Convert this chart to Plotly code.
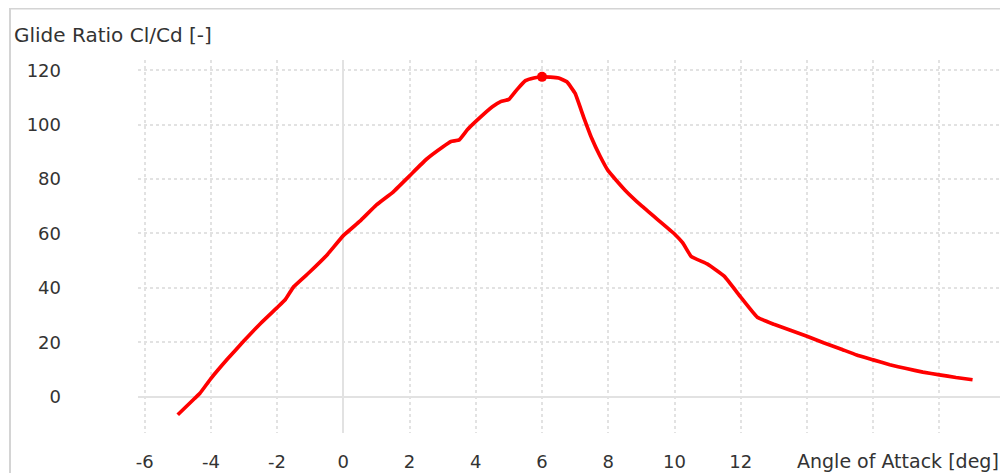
import plotly.graph_objects as go

# ---- data ----
alpha = [-5.0, -4.5, -4.33, -4.0, -3.5, -3.0, -2.5, -2.0, -1.75, -1.5, -1.0, -0.5,
         0.0, 0.5, 1.0, 1.5, 2.0, 2.5, 3.0, 3.25, 3.5, 3.75, 4.0, 4.5, 4.75, 5.0,
         5.25, 5.5, 5.75, 6.0, 6.25, 6.5, 6.75, 7.0, 7.25, 7.5, 7.75, 8.0, 8.5,
         9.0, 9.5, 10.0, 10.25, 10.5, 11.0, 11.5, 12.0, 12.5, 13.0, 13.5, 14.0,
         14.5, 15.0, 15.5, 16.0, 16.5, 17.0, 17.5, 18.0, 18.5, 19.0]
glide_ratio = [-6.7, -0.8, 1.2, 6.6, 13.8, 20.5, 26.9, 32.7, 35.7, 40.4, 46.0, 52.0,
               59.2, 64.5, 70.5, 75.2, 81.2, 87.2, 91.8, 93.8, 94.4, 98.2, 101.2, 106.6,
               108.5, 109.3, 113.0, 116.2, 117.2, 117.6, 117.5, 117.2, 115.8, 111.5,
               103.0, 95.0, 88.5, 83.0, 76.0, 70.2, 65.0, 59.8, 56.5, 51.6, 48.7, 44.3,
               36.6, 29.2, 26.6, 24.4, 22.2, 19.8, 17.6, 15.3, 13.5, 11.7, 10.3, 9.0,
               8.0, 7.0, 6.2]

x_tick_vals = [-6, -4, -2, 0, 2, 4, 6, 8, 10, 12, 14, 16, 18, 20]
x_tick_text = ["-6", "-4", "-2", "0", "2", "4", "6", "8", "10", "12", "", "", "", ""]
y_tick_vals = [0, 20, 40, 60, 80, 100, 120]

y_title = "Glide Ratio Cl/Cd [-]"
x_title = "Angle of Attack [deg]"

# ---- layout constants (page body has an 8px margin) ----
OFF = 8
W, H = 1008 - OFF, 473 - OFF
ML, MR, MT, MB = 138 - OFF, 0, 60 - OFF, 473 - 433
PW, PH = W - ML - MR, H - MT - MB

def px_to_paper_x(px):
    return (px - OFF - ML) / PW

def px_to_paper_y(py):
    return 1 - (py - OFF - MT) / PH

i_max = max(range(len(glide_ratio)), key=lambda i: glide_ratio[i])

FONT = "DejaVu Sans"
TXT = "#333333"
GRID = "#e2e2e2"

fig = go.Figure()
fig.add_trace(go.Scatter(
    x=alpha, y=glide_ratio, mode="lines",
    line=dict(color="#ff0000", width=3.7, shape="spline", smoothing=0.3),
    hoverinfo="x+y", showlegend=False,
))
fig.add_trace(go.Scatter(
    x=[alpha[i_max]], y=[glide_ratio[i_max]], mode="markers",
    marker=dict(color="#ff0000", size=10), showlegend=False,
))

fig.update_layout(
    width=W, height=H,
    margin=dict(l=ML, r=MR, t=MT, b=MB, pad=0),
    paper_bgcolor="white", plot_bgcolor="white",
    font=dict(family=FONT, size=18, color=TXT),
    xaxis=dict(
        range=[-6.2, 20.07], tickvals=x_tick_vals, ticktext=x_tick_text,
        showgrid=True, gridcolor=GRID, griddash="dot", gridwidth=2,
        zeroline=True, zerolinecolor="#e2e2e2", zerolinewidth=2,
        showline=False, ticks="", ticklabelstandoff=16,
        tickfont=dict(family=FONT, size=18, color=TXT),
    ),
    yaxis=dict(
        range=[-13.4, 123.8], tickvals=y_tick_vals,
        showgrid=True, gridcolor=GRID, griddash="dot", gridwidth=2,
        zeroline=True, zerolinecolor="#e2e2e2", zerolinewidth=2,
        showline=False, ticks="", ticklabelstandoff=76,
        tickfont=dict(family=FONT, size=18, color=TXT),
    ),
    annotations=[
        dict(text=y_title, xref="paper", yref="paper",
             x=px_to_paper_x(12), y=px_to_paper_y(35), xanchor="left", yanchor="middle",
             showarrow=False, font=dict(family=FONT, size=20, color=TXT)),
        dict(text=x_title, xref="paper", yref="paper",
             x=px_to_paper_x(795), y=px_to_paper_y(461), xanchor="left", yanchor="middle",
             showarrow=False, font=dict(family=FONT, size=19, color=TXT)),
    ],
    shapes=[
        dict(type="line", xref="paper", yref="paper",
             x0=px_to_paper_x(9), x1=px_to_paper_x(1012),
             y0=px_to_paper_y(8), y1=px_to_paper_y(8),
             line=dict(color="#d4d4d4", width=3)),
        dict(type="line", xref="paper", yref="paper",
             x0=px_to_paper_x(10), x1=px_to_paper_x(10),
             y0=px_to_paper_y(8), y1=px_to_paper_y(480),
             line=dict(color="#d4d4d4", width=2)),
    ],
)

fig.write_html("out.html")
